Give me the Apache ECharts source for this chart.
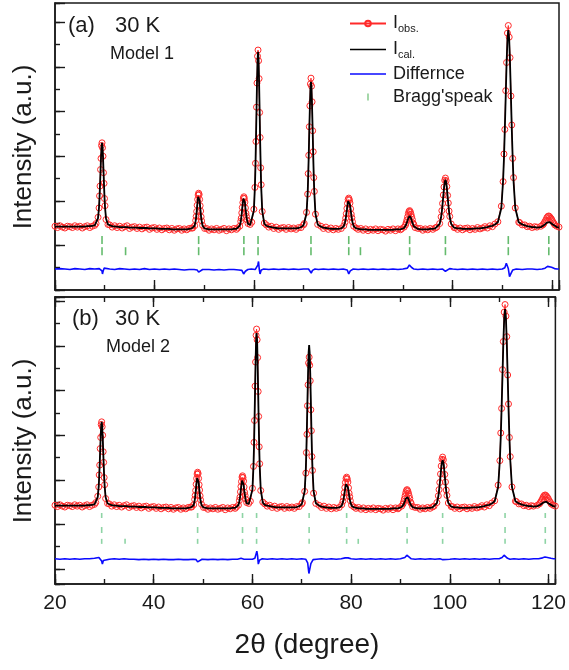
<!DOCTYPE html>
<html><head><meta charset="utf-8">
<script src="https://cdn.jsdelivr.net/npm/echarts@6/dist/echarts.min.js"></script>
<style>html,body{margin:0;padding:0;background:#fff}#c{width:569px;height:670px}</style>
</head><body><div id="c"></div>
<script>
// ---- data ----
const twoTheta = [
20,20.5,21,21.5,22,22.5,23,23.5,24,24.5,25,25.5,26,26.5,27,27.5,28,
28.26,28.66,28.86,28.96,29.06,29.16,29.26,29.36,29.46,29.56,29.66,29.76,29.86,29.96,30.06,30.26,30.66,
31,31.5,32,32.5,33,33.5,34,34.5,35,35.5,36,36.5,37,37.5,38,38.5,39,39.5,40,40.5,41,41.5,42,42.5,43,43.5,44,44.5,45,45.5,46,46.5,47,47.5,
47.7,48.1,48.3,48.4,48.5,48.6,48.7,48.8,48.9,49,49.1,49.2,49.3,49.4,49.5,49.7,50.1,
50.5,51,51.5,52,52.5,53,53.5,54,54.5,55,55.5,56,56.5,
56.74,57.16,57.37,57.47,57.58,57.68,57.79,57.9,58,58.1,58.21,58.31,58.42,58.52,58.63,58.84,59.26,
59.59,60.01,60.22,60.33,60.43,60.54,60.64,60.75,60.85,60.96,61.06,61.17,61.27,61.38,61.48,61.69,62.11,
62.5,63,63.5,64,64.5,65,65.5,66,66.5,67,67.5,68,68.5,69,69.5,70,
70.15,70.6,70.83,70.94,71.05,71.16,71.28,71.39,71.5,71.61,71.72,71.84,71.95,72.06,72.18,72.4,72.85,
73.5,74,74.5,75,75.5,76,76.5,77,
77.6,78.1,78.35,78.48,78.6,78.73,78.85,78.98,79.1,79.23,79.35,79.48,79.6,79.73,79.85,80.1,80.6,
81,81.5,82,82.5,83,83.5,84,84.5,85,85.5,86,86.5,87,87.5,88,88.5,89,89.5,
89.7,90.25,90.53,90.66,90.8,90.94,91.08,91.21,91.35,91.49,91.63,91.76,91.9,92.04,92.18,92.45,93,
93.5,94,94.5,95,95.5,96,96.5,
96.81,97.39,97.68,97.83,97.97,98.12,98.26,98.41,98.55,98.7,98.84,98.99,99.13,99.28,99.42,99.71,100.29,
100.5,101,101.5,102,102.5,103,103.5,104,104.5,105,105.5,106,106.5,107,107.5,108,108.5,
109.1,109.8,110.15,110.33,110.5,110.68,110.85,111.03,111.2,111.38,111.55,111.73,111.9,112.08,112.25,112.6,113.3,
113.5,114,114.5,115,115.5,116,116.5,
116.95,117.75,118.15,118.35,118.55,118.75,118.95,119.15,119.35,119.55,119.75,119.95,120.15,120.35,120.55,120.95,121.4
];
const obsIntensity = [
1.43,1.40,1.44,1.41,1.39,1.43,1.42,1.40,1.44,1.41,1.43,1.39,1.42,1.44,1.40,1.43,1.45,
1.49,1.63,1.84,2.11,2.33,2.70,2.95,3.24,3.30,3.19,3.00,2.63,2.39,2.05,1.89,1.58,1.47,
1.46,1.41,1.44,1.40,1.43,1.39,1.42,1.44,1.38,1.41,1.42,1.38,1.41,1.37,1.40,1.41,1.36,1.39,1.40,1.36,1.39,1.35,1.38,1.39,1.35,1.38,1.34,1.37,1.38,1.34,1.37,1.35,1.38,1.39,
1.39,1.44,1.56,1.65,1.76,1.90,2.03,2.13,2.17,2.14,2.03,1.89,1.77,1.64,1.55,1.45,1.38,
1.38,1.34,1.37,1.35,1.38,1.34,1.36,1.38,1.33,1.37,1.35,1.38,1.36,
1.39,1.43,1.54,1.61,1.73,1.85,1.96,2.06,2.09,2.05,1.97,1.84,1.72,1.65,1.57,1.49,1.47,
1.52,1.81,2.30,2.84,3.33,4.10,4.64,5.24,5.38,5.14,4.74,3.98,3.42,2.74,2.36,1.76,1.50,
1.46,1.41,1.43,1.38,1.41,1.36,1.39,1.40,1.36,1.40,1.37,1.39,1.36,1.40,1.40,1.46,
1.49,1.74,2.15,2.61,3.02,3.66,4.13,4.62,4.75,4.57,4.22,3.57,3.10,2.52,2.21,1.70,1.47,
1.43,1.38,1.41,1.36,1.39,1.35,1.38,1.36,
1.38,1.44,1.52,1.61,1.71,1.83,1.94,2.03,2.06,2.02,1.95,1.82,1.70,1.62,1.53,1.43,1.39,
1.36,1.38,1.34,1.37,1.33,1.36,1.34,1.37,1.33,1.36,1.35,1.32,1.36,1.34,1.37,1.33,1.37,1.35,
1.37,1.41,1.46,1.51,1.57,1.64,1.71,1.76,1.78,1.75,1.70,1.64,1.58,1.50,1.47,1.40,1.38,
1.38,1.34,1.37,1.35,1.38,1.36,1.39,
1.41,1.49,1.64,1.78,1.94,2.13,2.31,2.46,2.51,2.45,2.32,2.12,1.95,1.77,1.65,1.48,1.40,
1.40,1.36,1.39,1.35,1.38,1.39,1.35,1.38,1.36,1.40,1.37,1.39,1.42,1.39,1.44,1.42,1.48,
1.53,1.88,2.43,3.05,3.60,4.47,5.10,5.76,5.93,5.67,5.21,4.35,3.70,2.95,2.52,1.84,1.52,
1.51,1.46,1.46,1.42,1.43,1.40,1.42,
1.41,1.43,1.46,1.49,1.53,1.57,1.62,1.65,1.66,1.64,1.61,1.58,1.53,1.50,1.46,1.43,1.41
];
const calcModel1 = [
1.42,1.42,1.42,1.42,1.42,1.42,1.42,1.42,1.42,1.42,1.42,1.42,1.42,1.43,1.43,1.44,1.45,
1.47,1.61,1.86,2.08,2.36,2.67,2.98,3.21,3.30,3.21,2.98,2.67,2.36,2.08,1.86,1.61,1.47,
1.44,1.43,1.42,1.42,1.41,1.41,1.41,1.41,1.40,1.40,1.40,1.40,1.39,1.39,1.39,1.39,1.38,1.38,1.38,1.38,1.37,1.37,1.37,1.37,1.37,1.36,1.36,1.36,1.36,1.36,1.36,1.36,1.37,1.38,
1.38,1.44,1.55,1.63,1.75,1.87,2.00,2.09,2.13,2.09,2.00,1.87,1.75,1.63,1.55,1.44,1.38,
1.37,1.36,1.36,1.36,1.36,1.36,1.36,1.36,1.36,1.36,1.36,1.37,1.37,
1.38,1.44,1.53,1.62,1.72,1.84,1.96,2.05,2.08,2.05,1.96,1.84,1.74,1.65,1.57,1.48,1.46,
1.49,1.78,2.32,2.78,3.36,4.01,4.66,5.15,5.34,5.15,4.66,4.01,3.36,2.78,2.32,1.78,1.49,
1.44,1.42,1.41,1.40,1.39,1.38,1.38,1.38,1.38,1.38,1.38,1.38,1.38,1.39,1.41,1.45,
1.47,1.71,2.16,2.54,3.02,3.57,4.11,4.52,4.67,4.52,4.11,3.57,3.02,2.54,2.16,1.71,1.47,
1.42,1.40,1.39,1.38,1.37,1.37,1.37,1.37,
1.38,1.43,1.52,1.59,1.69,1.80,1.91,1.99,2.02,1.99,1.91,1.80,1.69,1.59,1.52,1.43,1.38,
1.37,1.36,1.36,1.36,1.35,1.35,1.35,1.35,1.35,1.35,1.35,1.35,1.35,1.35,1.35,1.36,1.36,1.36,
1.37,1.39,1.43,1.47,1.51,1.56,1.61,1.65,1.66,1.65,1.61,1.56,1.51,1.47,1.43,1.39,1.37,
1.36,1.36,1.36,1.36,1.37,1.37,1.38,
1.40,1.48,1.63,1.76,1.92,2.10,2.28,2.42,2.47,2.42,2.28,2.10,1.92,1.76,1.63,1.48,1.40,
1.39,1.38,1.38,1.37,1.37,1.37,1.37,1.37,1.38,1.38,1.38,1.39,1.40,1.41,1.43,1.44,1.47,
1.52,1.84,2.45,2.96,3.61,4.34,5.07,5.62,5.83,5.62,5.07,4.34,3.61,2.96,2.45,1.84,1.52,
1.50,1.47,1.45,1.43,1.42,1.41,1.41,
1.40,1.41,1.43,1.45,1.47,1.49,1.51,1.52,1.53,1.52,1.51,1.49,1.47,1.45,1.43,1.41,1.40
];
const calcModel2 = [
1.42,1.42,1.42,1.42,1.42,1.42,1.42,1.42,1.42,1.42,1.42,1.42,1.42,1.43,1.43,1.44,1.45,
1.47,1.61,1.86,2.08,2.36,2.67,2.98,3.21,3.30,3.21,2.98,2.67,2.36,2.08,1.86,1.61,1.47,
1.44,1.43,1.42,1.42,1.41,1.41,1.41,1.41,1.40,1.40,1.40,1.40,1.39,1.39,1.39,1.39,1.38,1.38,1.38,1.38,1.37,1.37,1.37,1.37,1.37,1.36,1.36,1.36,1.36,1.36,1.36,1.36,1.37,1.38,
1.38,1.43,1.53,1.61,1.72,1.83,1.95,2.04,2.07,2.04,1.95,1.83,1.72,1.61,1.53,1.43,1.38,
1.37,1.36,1.36,1.36,1.36,1.36,1.36,1.36,1.36,1.36,1.36,1.37,1.37,
1.38,1.43,1.52,1.59,1.69,1.79,1.90,1.98,2.01,1.98,1.90,1.79,1.71,1.63,1.55,1.47,1.46,
1.49,1.78,2.31,2.76,3.33,3.98,4.62,5.11,5.29,5.11,4.62,3.98,3.33,2.76,2.31,1.78,1.49,
1.44,1.42,1.41,1.40,1.39,1.38,1.38,1.38,1.38,1.38,1.38,1.38,1.38,1.39,1.41,1.45,
1.48,1.75,2.25,2.66,3.20,3.80,4.40,4.85,5.02,4.85,4.40,3.80,3.20,2.66,2.25,1.75,1.48,
1.42,1.40,1.39,1.38,1.37,1.37,1.37,1.37,
1.38,1.42,1.50,1.56,1.65,1.74,1.83,1.90,1.93,1.90,1.83,1.74,1.65,1.56,1.50,1.42,1.38,
1.37,1.36,1.36,1.36,1.35,1.35,1.35,1.35,1.35,1.35,1.35,1.35,1.35,1.35,1.35,1.36,1.36,1.36,
1.37,1.39,1.42,1.45,1.49,1.53,1.58,1.61,1.62,1.61,1.58,1.53,1.49,1.45,1.42,1.39,1.37,
1.36,1.36,1.36,1.36,1.37,1.37,1.38,
1.40,1.48,1.63,1.75,1.91,2.08,2.26,2.39,2.44,2.39,2.26,2.08,1.91,1.75,1.63,1.48,1.40,
1.39,1.38,1.38,1.37,1.37,1.37,1.37,1.37,1.38,1.38,1.38,1.39,1.40,1.41,1.43,1.44,1.47,
1.52,1.84,2.45,2.96,3.61,4.34,5.07,5.62,5.83,5.62,5.07,4.34,3.61,2.96,2.45,1.84,1.52,
1.50,1.47,1.45,1.43,1.42,1.41,1.41,
1.40,1.41,1.43,1.44,1.46,1.48,1.49,1.51,1.51,1.51,1.49,1.48,1.46,1.44,1.43,1.41,1.40
];
const diffModel1 = [[20,0.47],[21,0.48],[22,0.47],[23,0.46],[24,0.48],[25,0.47],[26,0.46],[27,0.48],[28,0.47],[28.9,0.48],[29.25,0.51],[29.45,0.43],[29.55,0.36],[29.7,0.43],[29.9,0.49],[30.3,0.46],[31,0.47],[32,0.46],[33,0.48],[34,0.47],[35,0.46],[36,0.47],[37,0.46],[38,0.48],[39,0.46],[40,0.47],[41,0.46],[42,0.47],[43,0.46],[44,0.47],[45,0.46],[46,0.45],[47,0.46],[48,0.46],[48.6,0.45],[48.9,0.40],[49.2,0.44],[49.7,0.46],[51,0.46],[52,0.45],[53,0.46],[54,0.45],[55,0.46],[56,0.46],[57,0.45],[57.6,0.44],[57.95,0.36],[58.3,0.42],[58.8,0.46],[59.5,0.47],[60.3,0.46],[60.6,0.43],[60.8,0.56],[60.95,0.64],[61.1,0.46],[61.25,0.36],[61.5,0.45],[62,0.47],[63,0.46],[64,0.47],[65,0.46],[66,0.47],[67,0.46],[68,0.47],[69,0.46],[70,0.47],[71,0.47],[71.3,0.44],[71.55,0.38],[71.8,0.44],[72.3,0.47],[73,0.46],[74,0.47],[75,0.46],[76,0.47],[77,0.46],[78,0.47],[78.8,0.45],[79.1,0.36],[79.4,0.43],[80,0.47],[81,0.46],[82,0.47],[83,0.46],[84,0.47],[85,0.46],[86,0.47],[87,0.46],[88,0.47],[89,0.46],[90,0.47],[90.9,0.49],[91.3,0.56],[91.7,0.51],[92.2,0.47],[93,0.46],[94,0.47],[95,0.46],[96,0.47],[97,0.46],[98,0.47],[98.35,0.45],[98.55,0.42],[98.8,0.45],[99.4,0.48],[100,0.47],[101,0.46],[102,0.47],[103,0.46],[104,0.47],[105,0.46],[106,0.47],[107,0.46],[108,0.47],[109,0.46],[110,0.47],[110.5,0.50],[110.8,0.60],[110.95,0.64],[111.2,0.48],[111.45,0.30],[111.7,0.36],[112.1,0.45],[112.8,0.47],[114,0.46],[115,0.47],[116,0.47],[117,0.46],[118,0.47],[118.6,0.49],[119.1,0.53],[119.4,0.54],[119.9,0.51],[120.5,0.48],[121,0.47],[121.4,0.47]];
const diffModel2 = [[20,0.23],[21,0.22],[22,0.23],[23,0.22],[24,0.23],[25,0.22],[26,0.23],[27,0.23],[28,0.24],[28.9,0.26],[29.2,0.28],[29.45,0.18],[29.6,0.11],[29.8,0.19],[30.2,0.23],[31,0.22],[32,0.23],[33,0.22],[34,0.23],[35,0.22],[36,0.22],[37,0.21],[38,0.22],[39,0.21],[40,0.22],[41,0.21],[42,0.22],[43,0.21],[44,0.21],[45,0.22],[46,0.21],[47,0.21],[48,0.22],[48.6,0.21],[48.9,0.16],[49.2,0.20],[49.8,0.22],[51,0.21],[52,0.22],[53,0.21],[54,0.22],[55,0.21],[56,0.22],[57,0.22],[57.7,0.24],[58.0,0.27],[58.3,0.22],[59,0.22],[60,0.22],[60.5,0.24],[60.75,0.34],[60.9,0.40],[61.05,0.30],[61.2,0.11],[61.45,0.20],[62,0.23],[63,0.22],[64,0.23],[65,0.22],[66,0.23],[67,0.22],[68,0.23],[69,0.22],[70,0.23],[70.8,0.22],[71.2,0.14],[71.45,-0.10],[71.6,-0.09],[71.85,0.12],[72.3,0.21],[73,0.22],[74,0.23],[75,0.22],[76,0.23],[77,0.22],[78,0.23],[78.8,0.25],[79.1,0.29],[79.4,0.25],[80,0.23],[81,0.22],[82,0.23],[83,0.22],[84,0.23],[85,0.22],[86,0.23],[87,0.22],[88,0.23],[89,0.22],[90,0.23],[90.9,0.26],[91.3,0.31],[91.7,0.27],[92.2,0.23],[93,0.22],[94,0.23],[95,0.22],[96,0.23],[97,0.22],[98,0.23],[98.4,0.25],[98.6,0.21],[98.9,0.23],[100,0.22],[101,0.23],[102,0.22],[103,0.23],[104,0.22],[105,0.23],[106,0.22],[107,0.23],[108,0.22],[109,0.23],[110,0.23],[110.6,0.26],[111.0,0.31],[111.3,0.30],[111.7,0.24],[112.2,0.22],[113,0.23],[114,0.22],[115,0.23],[116,0.22],[117,0.23],[118,0.23],[118.8,0.25],[119.3,0.27],[119.8,0.26],[120.5,0.24],[121,0.23],[121.4,0.23]];
const braggMain = [29.46, 48.9, 58.0, 60.85, 71.5, 79.1, 91.35, 98.55, 111.2, 119.35];
const braggAll = [29.46, 34.2, 48.9, 58.0, 60.85, 71.5, 79.1, 81.45, 91.35, 98.55, 111.2, 119.35];
const braggLevelModel1 = [1.12, 0.87];
const braggLevelModel2 = [1.03, 0.62];
const xTickLabels = [20, 40, 60, 80, 100, 120];
const panelLabels = ['(a)', '(b)'];
const tempLabel = '30 K';
const modelLabels = ['Model 1', 'Model 2'];

// ---- build ----
[obsIntensity, calcModel1, calcModel2].forEach((a, i) => {
  if (a.length !== twoTheta.length) throw new Error('length mismatch ' + i + ': ' + a.length + ' vs ' + twoTheta.length);
});
const zip = (xs, ys) => xs.map((x, i) => [x, ys[i]]);
const FONT = '"Liberation Sans", Arial, sans-serif';
const INK = '#1a1a1a';
const RED = '#ff2a2a', BLUE = '#0a0aff', GREEN_A = '#3daa48', GREEN_B = '#72c98f';

const chart = echarts.init(document.getElementById('c'), null, {renderer: 'canvas'});

const X0 = 20, X1 = 121.4;
function xAx(grid, pos, interval, len, line, labels) {
  return {
    type: 'value', gridIndex: grid, position: pos, min: X0, max: X1, interval: interval,
    axisLine: {show: line, onZero: false, lineStyle: {color: INK, width: 1.5}},
    axisTick: {show: true, inside: true, length: len, lineStyle: {color: INK, width: 1.4}},
    axisLabel: labels ? {show: true, fontSize: 21, fontFamily: FONT, color: INK, margin: 9,
      formatter: v => xTickLabels.includes(v) ? String(v) : ''} : {show: false},
    splitLine: {show: false}
  };
}
function yAx(grid, min, max, opt, len, line) {
  return Object.assign({
    type: 'value', gridIndex: grid, position: 'left', min: min, max: max,
    axisLine: {show: line, onZero: false, lineStyle: {color: INK, width: 1.5}},
    axisTick: {show: true, inside: true, length: len, lineStyle: {color: INK, width: 1.4}},
    axisLabel: {show: false}, splitLine: {show: false}
  }, opt);
}
const YA = [0, 6.435], YB = [-0.336, 6.099];

function txt(x, y, s, size, rot, align) {
  return {type: 'text', x: x, y: y, rotation: rot || 0, silent: true,
    style: {text: s, font: size + 'px ' + FONT, fill: INK,
      align: align || 'left', verticalAlign: 'middle', textAlign: align || 'left', textVerticalAlign: 'middle'}};
}

function panelSeries(g, calc, diff, levels, green, dashed) {
  const xi = g === 0 ? 0 : 2, yi = g === 0 ? 0 : 2;
  return [
    {name: 'Iobs', type: 'line', xAxisIndex: xi, yAxisIndex: yi, data: zip(twoTheta, obsIntensity),
      symbol: 'circle', symbolSize: 6, showSymbol: true, showAllSymbol: true,
      itemStyle: {color: 'rgba(255,255,255,0)', borderColor: RED, borderWidth: 1},
      lineStyle: {color: RED, width: 1}, z: 2, animation: false},
    {name: 'Ical', type: 'line', xAxisIndex: xi, yAxisIndex: yi, data: zip(twoTheta, calc),
      symbol: 'none', itemStyle: {color: '#000'}, lineStyle: {color: '#000', width: 1.8}, z: 3, animation: false},
    {name: 'Differnce', type: 'line', xAxisIndex: xi, yAxisIndex: yi, data: diff,
      symbol: 'none', itemStyle: {color: BLUE}, lineStyle: {color: BLUE, width: 1.6}, z: 3, animation: false},
    {name: "Bragg'speak", type: 'scatter', xAxisIndex: xi, yAxisIndex: yi,
      data: braggMain.map(x => [x, levels[0]]),
      symbol: dashed ? 'path://M0,0h2v5h-2z M0,14h2v6h-2z' : 'rect', symbolSize: dashed ? [1.6, 20] : [1.6, 8],
      itemStyle: {color: green}, z: 4, animation: false},
    {name: 'Bragg2', type: 'scatter', xAxisIndex: xi, yAxisIndex: yi,
      data: braggAll.map(x => [x, levels[1]]),
      symbol: 'rect', symbolSize: dashed ? [1.6, 5] : [1.6, 8],
      itemStyle: {color: green}, z: 4, animation: false}
  ];
}

const LINE_ICON = 'path://M0,0h36v1.6h-36z';
const option = {
  animation: false,
  backgroundColor: '#fff',
  grid: [
    {left: 55, top: 3, width: 504, height: 287, show: true, borderColor: INK, borderWidth: 1.5, backgroundColor: 'transparent'},
    {left: 55, top: 297, width: 504, height: 287, show: true, borderColor: INK, borderWidth: 1.5, backgroundColor: 'transparent'}
  ],
  xAxis: [
    xAx(0, 'bottom', 20, 10, true, false),
    xAx(0, 'bottom', 10, 5, false, false),
    xAx(1, 'bottom', 20, 10, true, true),
    xAx(1, 'bottom', 10, 5, false, false),
    xAx(1, 'top', 20, 10, true, false),
    xAx(1, 'top', 10, 5, false, false)
  ],
  yAxis: [
    yAx(0, YA[0], YA[1], {interval: 1}, 10, true),
    yAx(0, YA[0], YA[1], {interval: 0.5}, 5, false),
    yAx(1, YB[0], YB[1], {splitNumber: 6}, 10, true),
    yAx(1, YB[0], YB[1], {splitNumber: 12}, 5, false)
  ],
  legend: {
    orient: 'vertical', left: 344, top: 8, itemWidth: 36, itemHeight: 7, itemGap: 5, selectedMode: false,
    data: [{name: 'Iobs'}, {name: 'Ical', icon: LINE_ICON}, {name: 'Differnce', icon: LINE_ICON},
           {name: "Bragg'speak", icon: 'path://M0,0h1v6h-1z'}],
    formatter: n => n === 'Iobs' ? '{m|I}{s|obs.}' : (n === 'Ical' ? '{m|I}{s|cal.}' : '{m|' + n + '}'),
    textStyle: {rich: {
      m: {fontSize: 18, fontFamily: FONT, color: INK, lineHeight: 22, padding: [0, 0, 0, 2]},
      s: {fontSize: 11, fontFamily: FONT, color: INK, lineHeight: 12, padding: [10, 0, 0, 0]}
    }}
  },
  series: [].concat(
    panelSeries(0, calcModel1, diffModel1, braggLevelModel1, GREEN_A, false),
    panelSeries(1, calcModel2, diffModel2, braggLevelModel2, GREEN_B, true)
  ),
  graphic: [
    txt(68, 26, panelLabels[0], 22), txt(115, 26, tempLabel, 22), txt(110, 54, modelLabels[0], 18),
    txt(72, 319, panelLabels[1], 22), txt(115, 319, tempLabel, 22), txt(106, 347, modelLabels[1], 18),
    txt(24, 147, 'Intensity (a.u.)', 26, Math.PI / 2, 'center'),
    txt(24, 441, 'Intensity (a.u.)', 26, Math.PI / 2, 'center'),
    txt(307, 645, '2θ (degree)', 28, 0, 'center')
  ]
};
chart.setOption(option);
</script></body></html>
